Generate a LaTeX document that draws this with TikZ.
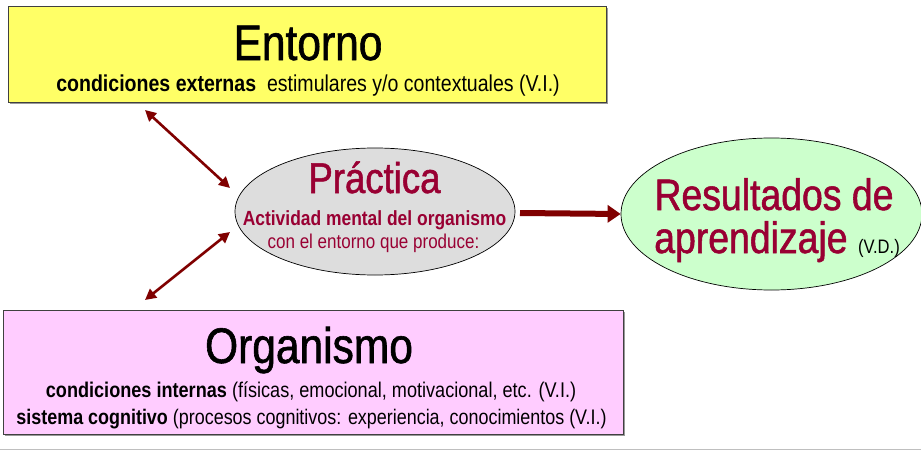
\documentclass[tikz,border=0pt]{standalone}
\usepackage{fontspec}
\setmainfont{Liberation Sans}[FakeStretch=0.85]
\newfontfamily\titlefont{Liberation Sans}[FakeStretch=0.85, FakeBold=1.2]
\usetikzlibrary{arrows.meta,shapes.geometric,shadows}
\definecolor{entfill}{HTML}{FFFF66}
\definecolor{orgfill}{HTML}{FFCCFF}
\definecolor{pracfill}{HTML}{DDDDDD}
\definecolor{resfill}{HTML}{CCFFCC}
\definecolor{wine}{HTML}{990033}
\definecolor{arrowred}{HTML}{800000}
\begin{document}
\begin{tikzpicture}[x=1pt,y=-1pt,
  box/.style={draw=black!75, line width=0.8pt, inner sep=0pt, drop shadow={shadow xshift=1.8pt, shadow yshift=-1.8pt, fill=black!40, opacity=1}},
  oval/.style={ellipse, draw=black, line width=0.7pt, inner sep=0pt},
  txt/.style={anchor=base, inner sep=0pt},
  biarrow/.style={{Triangle[length=11pt,width=11pt]}-{Triangle[length=11pt,width=11pt]}, line width=2.6pt, draw=arrowred},
  bigarrow/.style={-{Triangle[length=13pt,width=17pt]}, line width=6pt, draw=arrowred}]
\useasboundingbox (0,0) rectangle (921,452);
\fill[white] (0,0) rectangle (921,452);
\draw[line width=1.5pt, black!25] (0,449.5) -- (921,449.5);
% boxes
\node[box, fill=entfill, minimum width=598pt, minimum height=96pt] (ent) at (307.5,54) {};
\node[box, fill=orgfill, minimum width=620pt, minimum height=124pt] (org) at (313,372) {};
\node[oval, fill=pracfill, minimum width=280pt, minimum height=127pt] (prac) at (375,211.5) {};
\node[oval, fill=resfill, minimum width=301pt, minimum height=152pt] (res) at (771.5,214) {};
% texts
\node[txt, font=\titlefont\fontsize{50}{55}\selectfont] (entT) at (308,60) {Entorno};
\node[txt, font=\fontsize{23}{27}\selectfont] (entS) at (308,92) {\textbf{condiciones externas}\ \ estimulares y/o contextuales (V.I.)};
\node[txt, text=wine, font=\titlefont\fontsize{43}{48}\selectfont] (pracT) at (374.5,193) {Práctica};
\node[txt, text=wine, font=\bfseries\fontsize{20.5}{24}\selectfont] (pracA) at (374.5,225) {Actividad mental del organismo};
\node[txt, text=wine, font=\fontsize{20}{24}\selectfont] (pracB) at (373.5,248) {con el entorno que produce:};
\node[txt, text=wine, font=\titlefont\fontsize{44}{50}\selectfont] (resA) at (774,210) {Resultados de};
\node[txt, font=\titlefont\fontsize{44}{50}\selectfont] (resB) at (777,253) {\textcolor{wine}{aprendizaje} {\normalfont\fontsize{19.5}{22}\selectfont (V.D.)}};
\node[txt, font=\titlefont\fontsize{50}{55}\selectfont] (orgT) at (309,363) {Organismo};
\node[txt, font=\fontsize{21.3}{25}\selectfont] (orgA) at (311,397) {\textbf{condiciones internas} (físicas, emocional, motivacional, etc. (V.I.)};
\node[txt, font=\fontsize{21.1}{25}\selectfont] (orgB) at (311.5,424) {\textbf{sistema cognitivo} (procesos cognitivos: experiencia, conocimientos (V.I.)};
% arrows
\coordinate (a1) at (145,110);
\coordinate (a2) at (230,188);
\coordinate (b1) at (145,300);
\coordinate (b2) at (230,232);
\coordinate (c1) at (520,213);
\draw[biarrow] (a1) -- (a2);
\draw[biarrow] (b1) -- (b2);
\draw[bigarrow] (c1) -- (res.west);
\end{tikzpicture}
\end{document}
